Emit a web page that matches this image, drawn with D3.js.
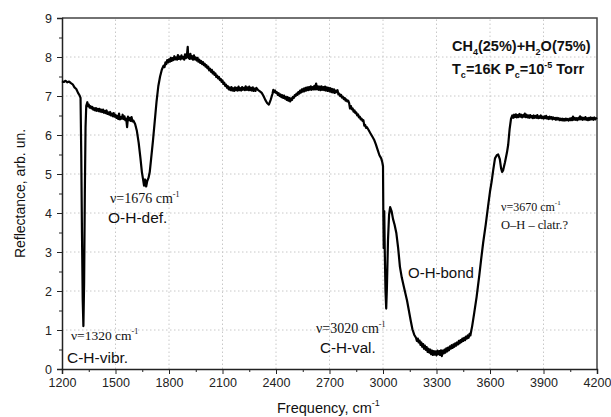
<!DOCTYPE html>
<html>
<head>
<meta charset="utf-8">
<script src="https://cdn.jsdelivr.net/npm/d3@7"></script>
<style>
  body { margin: 0; background: #fff; }
  svg { display: block; }
  .axis text { font-family: "Liberation Sans", Arial, sans-serif; font-size: 12.5px; fill: #222; }
  .axis path, .axis line { stroke: #222; }
  .grid line { stroke: #c8c8c8; stroke-dasharray: 1.5,2.5; }
  .sans { font-family: "Liberation Sans", Arial, sans-serif; fill: #111; }
  .serif { font-family: "Liberation Serif", "Times New Roman", serif; fill: #111; }
</style>
</head>
<body>
<script>
// spectrum: [frequency cm-1, reflectance arb. un.]
const spectrum = [
  [1200, 7.38], [1210, 7.36], [1220, 7.39], [1230, 7.35], [1240, 7.37], [1250, 7.33], [1260, 7.30], [1270, 7.22],
  [1280, 7.18], [1290, 7.08], [1298, 7.02], [1304, 6.95], [1308, 5.50], [1312, 3.50], [1316, 1.80], [1320, 1.10],
  [1324, 2.20], [1328, 4.50], [1332, 6.20], [1336, 6.75], [1342, 6.84], [1346, 6.74], [1350, 6.78], [1355, 6.70],
  [1360, 6.74], [1365, 6.68], [1370, 6.72], [1375, 6.65], [1380, 6.69], [1385, 6.63], [1390, 6.69], [1395, 6.62],
  [1400, 6.67], [1405, 6.61], [1410, 6.67], [1415, 6.60], [1420, 6.65], [1425, 6.59], [1430, 6.65], [1435, 6.57],
  [1440, 6.62], [1445, 6.56], [1450, 6.63], [1455, 6.54], [1460, 6.58], [1465, 6.52], [1470, 6.59], [1475, 6.50],
  [1480, 6.55], [1485, 6.48], [1490, 6.56], [1495, 6.47], [1500, 6.52], [1505, 6.44], [1510, 6.49], [1515, 6.41],
  [1520, 6.55], [1525, 6.40], [1530, 6.46], [1535, 6.42], [1540, 6.52], [1545, 6.41], [1550, 6.48], [1555, 6.38],
  [1560, 6.42], [1565, 6.20], [1570, 6.47], [1575, 6.38], [1580, 6.44], [1585, 6.36], [1590, 6.46], [1595, 6.35],
  [1600, 6.37], [1610, 6.28], [1620, 6.10], [1630, 5.80], [1640, 5.40], [1648, 5.05], [1655, 4.85], [1660, 4.70],
  [1666, 4.86], [1672, 4.68], [1678, 4.82], [1685, 4.90], [1692, 5.05], [1700, 5.40], [1710, 5.85], [1720, 6.35],
  [1730, 6.85], [1740, 7.25], [1750, 7.50], [1760, 7.68], [1770, 7.78], [1775, 7.74], [1780, 7.86], [1785, 7.82],
  [1790, 7.92], [1795, 7.86], [1800, 7.94], [1805, 7.88], [1810, 7.98], [1815, 7.90], [1820, 7.97], [1825, 7.92],
  [1830, 8.02], [1835, 7.94], [1840, 7.99], [1845, 7.93], [1850, 8.05], [1855, 7.95], [1860, 8.01], [1865, 7.94],
  [1870, 8.04], [1875, 7.96], [1880, 8.00], [1885, 7.93], [1890, 8.07], [1895, 7.97], [1900, 8.03], [1905, 8.26],
  [1908, 7.98], [1912, 8.06], [1915, 7.95], [1920, 8.08], [1925, 7.96], [1930, 8.02], [1935, 7.93], [1940, 8.04],
  [1945, 7.94], [1950, 7.99], [1955, 7.91], [1960, 7.98], [1965, 7.88], [1970, 7.93], [1975, 7.85], [1980, 7.90],
  [1985, 7.82], [1990, 7.87], [1995, 7.79], [2000, 7.83], [2005, 7.75], [2010, 7.79], [2015, 7.71], [2020, 7.75],
  [2025, 7.66], [2030, 7.70], [2035, 7.62], [2040, 7.67], [2045, 7.58], [2050, 7.62], [2055, 7.54], [2060, 7.58],
  [2065, 7.49], [2070, 7.52], [2075, 7.45], [2080, 7.49], [2085, 7.41], [2090, 7.44], [2095, 7.36], [2100, 7.40],
  [2105, 7.31], [2110, 7.34], [2115, 7.26], [2120, 7.29], [2125, 7.21], [2130, 7.25], [2135, 7.17], [2140, 7.22],
  [2145, 7.15], [2150, 7.23], [2155, 7.14], [2160, 7.20], [2165, 7.13], [2170, 7.22], [2175, 7.15], [2180, 7.21],
  [2185, 7.14], [2190, 7.24], [2195, 7.15], [2200, 7.20], [2205, 7.14], [2210, 7.23], [2215, 7.16], [2220, 7.21],
  [2225, 7.15], [2230, 7.25], [2235, 7.16], [2240, 7.22], [2245, 7.15], [2250, 7.24], [2255, 7.15], [2260, 7.21],
  [2265, 7.14], [2270, 7.22], [2275, 7.13], [2280, 7.19], [2285, 7.13], [2290, 7.21], [2300, 7.15], [2310, 7.12],
  [2320, 7.08], [2330, 7.00], [2340, 6.90], [2350, 6.82], [2360, 6.78], [2370, 6.90], [2380, 7.05], [2385, 7.16],
  [2390, 7.10], [2395, 7.14], [2400, 7.08], [2405, 7.10], [2410, 7.03], [2415, 7.07], [2420, 7.00], [2425, 7.04],
  [2430, 6.97], [2435, 7.02], [2440, 6.95], [2445, 7.01], [2450, 6.93], [2455, 6.98], [2460, 6.90], [2465, 6.97],
  [2470, 6.88], [2475, 6.95], [2480, 6.86], [2485, 6.94], [2490, 6.90], [2495, 6.98], [2500, 6.95], [2505, 7.02],
  [2510, 7.00], [2515, 7.06], [2520, 7.03], [2525, 7.10], [2530, 7.06], [2535, 7.14], [2540, 7.09], [2545, 7.17],
  [2550, 7.11], [2555, 7.19], [2560, 7.12], [2565, 7.21], [2570, 7.14], [2575, 7.22], [2580, 7.15], [2585, 7.23],
  [2590, 7.16], [2595, 7.25], [2600, 7.16], [2605, 7.23], [2610, 7.17], [2615, 7.26], [2620, 7.17], [2625, 7.32],
  [2630, 7.17], [2635, 7.25], [2640, 7.16], [2645, 7.24], [2650, 7.15], [2655, 7.25], [2660, 7.16], [2665, 7.23],
  [2670, 7.15], [2675, 7.24], [2680, 7.14], [2685, 7.22], [2690, 7.13], [2695, 7.21], [2700, 7.12], [2705, 7.20],
  [2710, 7.10], [2715, 7.18], [2720, 7.09], [2725, 7.17], [2730, 7.08], [2735, 7.14], [2740, 7.10], [2745, 7.15],
  [2750, 7.04], [2755, 7.06], [2760, 7.00], [2765, 7.03], [2770, 6.96], [2775, 6.98], [2780, 6.92], [2785, 6.95],
  [2790, 6.88], [2795, 6.91], [2800, 6.86], [2805, 6.88], [2810, 6.82], [2815, 6.68], [2820, 6.74], [2825, 6.66],
  [2830, 6.68], [2835, 6.60], [2840, 6.63], [2845, 6.56], [2850, 6.58], [2855, 6.50], [2860, 6.53], [2865, 6.45],
  [2870, 6.47], [2875, 6.40], [2880, 6.42], [2885, 6.36], [2890, 6.38], [2895, 6.24], [2900, 6.26], [2905, 6.18],
  [2910, 6.20], [2920, 6.12], [2930, 6.04], [2940, 5.96], [2950, 5.88], [2960, 5.76], [2970, 5.62], [2980, 5.48],
  [2990, 5.40], [2996, 5.30], [3000, 5.20], [3002, 3.90], [3004, 3.10], [3007, 4.05], [3010, 3.00], [3014, 2.00],
  [3018, 1.55], [3022, 2.10], [3028, 3.30], [3034, 3.95], [3040, 4.15], [3048, 4.05], [3056, 3.85], [3065, 3.70],
  [3075, 3.48], [3085, 3.10], [3095, 2.62], [3105, 2.35], [3115, 2.15], [3125, 1.95], [3135, 1.75], [3145, 1.50],
  [3155, 1.25], [3165, 1.02], [3175, 0.88], [3180, 0.84], [3185, 0.80], [3190, 0.72], [3195, 0.78], [3200, 0.68],
  [3205, 0.73], [3210, 0.62], [3215, 0.68], [3220, 0.57], [3225, 0.64], [3230, 0.52], [3235, 0.60], [3240, 0.49],
  [3245, 0.56], [3250, 0.44], [3255, 0.52], [3260, 0.42], [3265, 0.50], [3270, 0.38], [3275, 0.47], [3280, 0.36],
  [3285, 0.46], [3290, 0.37], [3295, 0.45], [3300, 0.35], [3305, 0.47], [3310, 0.38], [3315, 0.46], [3320, 0.36],
  [3325, 0.48], [3330, 0.33], [3335, 0.47], [3340, 0.40], [3345, 0.50], [3350, 0.42], [3355, 0.53], [3360, 0.45],
  [3365, 0.55], [3370, 0.48], [3375, 0.58], [3380, 0.52], [3385, 0.61], [3390, 0.54], [3395, 0.63], [3400, 0.57],
  [3405, 0.66], [3410, 0.60], [3415, 0.68], [3420, 0.63], [3425, 0.72], [3430, 0.66], [3435, 0.74], [3440, 0.69],
  [3445, 0.78], [3450, 0.72], [3455, 0.80], [3460, 0.74], [3465, 0.83], [3470, 0.78], [3475, 0.86], [3480, 0.80],
  [3485, 0.90], [3490, 0.86], [3500, 1.10], [3512, 1.45], [3525, 1.85], [3540, 2.40], [3550, 2.80], [3562, 3.25],
  [3576, 3.70], [3590, 4.20], [3600, 4.55], [3609, 4.80], [3618, 5.10], [3628, 5.40], [3638, 5.48], [3646, 5.50],
  [3655, 5.38], [3662, 5.15], [3668, 5.05], [3674, 5.10], [3684, 5.30], [3695, 5.55], [3702, 5.75], [3710, 6.15],
  [3718, 6.42], [3725, 6.50], [3730, 6.44], [3735, 6.52], [3740, 6.46], [3745, 6.53], [3750, 6.45], [3755, 6.51],
  [3760, 6.46], [3765, 6.54], [3770, 6.47], [3775, 6.52], [3780, 6.45], [3785, 6.51], [3790, 6.47], [3795, 6.55],
  [3800, 6.46], [3805, 6.52], [3810, 6.45], [3815, 6.50], [3820, 6.44], [3825, 6.51], [3830, 6.45], [3835, 6.49],
  [3840, 6.43], [3845, 6.50], [3850, 6.44], [3855, 6.49], [3860, 6.44], [3865, 6.51], [3870, 6.43], [3875, 6.48],
  [3880, 6.44], [3885, 6.50], [3890, 6.43], [3895, 6.47], [3900, 6.42], [3905, 6.48], [3910, 6.43], [3915, 6.49],
  [3920, 6.42], [3925, 6.46], [3930, 6.41], [3935, 6.47], [3940, 6.42], [3945, 6.46], [3950, 6.40], [3955, 6.45],
  [3960, 6.41], [3965, 6.44], [3970, 6.39], [3975, 6.44], [3980, 6.40], [3985, 6.43], [3990, 6.38], [3995, 6.42],
  [4000, 6.38], [4005, 6.42], [4010, 6.37], [4015, 6.41], [4020, 6.37], [4025, 6.42], [4030, 6.38], [4035, 6.41],
  [4040, 6.37], [4045, 6.42], [4050, 6.38], [4055, 6.43], [4060, 6.38], [4065, 6.47], [4070, 6.39], [4075, 6.44],
  [4080, 6.39], [4085, 6.43], [4090, 6.38], [4095, 6.44], [4100, 6.40], [4105, 6.48], [4110, 6.40], [4115, 6.45],
  [4120, 6.39], [4125, 6.44], [4130, 6.40], [4135, 6.46], [4140, 6.39], [4145, 6.43], [4150, 6.38], [4155, 6.44],
  [4160, 6.39], [4165, 6.45], [4170, 6.40], [4175, 6.44], [4180, 6.39], [4185, 6.45], [4190, 6.40], [4195, 6.43],
  [4200, 6.41]
];

const xTicks = [1200, 1500, 1800, 2100, 2400, 2700, 3000, 3300, 3600, 3900, 4200];
const xMinor = [1350, 1650, 1950, 2250, 2550, 2850, 3150, 3450, 3750, 4050];
const yTicks = [0, 1, 2, 3, 4, 5, 6, 7, 8, 9];
const yMinor = [0.5, 1.5, 2.5, 3.5, 4.5, 5.5, 6.5, 7.5, 8.5];

const width = 611, height = 417;
const margin = { left: 62, top: 18, right: 14, bottom: 48 };

const svg = d3.select('body').append('svg')
  .attr('width', width)
  .attr('height', height);

const x = d3.scaleLinear().domain([1200, 4200]).range([margin.left, width - margin.right]);
const y = d3.scaleLinear().domain([0, 9]).range([height - margin.bottom, margin.top]);

// grid
svg.append('g').attr('class', 'grid')
  .selectAll('line').data(xTicks.slice(1, -1)).enter().append('line')
    .attr('x1', d => x(d)).attr('x2', d => x(d))
    .attr('y1', y(0)).attr('y2', y(9));
svg.append('g').attr('class', 'grid')
  .selectAll('line').data(yTicks.slice(1, -1)).enter().append('line')
    .attr('y1', d => y(d)).attr('y2', d => y(d))
    .attr('x1', x(1200)).attr('x2', x(4200));

// frame (top and right)
svg.append('path')
  .attr('d', `M${x(1200)},${y(9)}H${x(4200)}V${y(0)}`)
  .attr('fill', 'none')
  .attr('stroke', '#444')
  .attr('stroke-width', 1.5);

// axes
svg.append('g').attr('class', 'axis')
  .attr('transform', `translate(0,${y(0)})`)
  .call(d3.axisBottom(x).tickValues(xMinor).tickSize(3).tickFormat(''))
  .call(g => g.select('.domain').remove());
svg.append('g').attr('class', 'axis')
  .attr('transform', `translate(0,${y(0)})`)
  .call(d3.axisBottom(x).tickValues(xTicks).tickSize(5).tickPadding(4).tickFormat(d3.format('d')))
  .call(g => g.select('.domain').attr('stroke-width', 1.5));

svg.append('g').attr('class', 'axis')
  .attr('transform', `translate(${x(1200)},0)`)
  .call(d3.axisLeft(y).tickValues(yMinor).tickSize(3).tickFormat(''))
  .call(g => g.select('.domain').remove());
svg.append('g').attr('class', 'axis')
  .attr('transform', `translate(${x(1200)},0)`)
  .call(d3.axisLeft(y).tickValues(yTicks).tickSize(5).tickPadding(5).tickFormat(d3.format('d')))
  .call(g => g.select('.domain').attr('stroke-width', 1.5));

// spectrum line
svg.append('path')
  .datum(spectrum)
  .attr('fill', 'none')
  .attr('stroke', '#000')
  .attr('stroke-width', 2.2)
  .attr('stroke-linejoin', 'round')
  .attr('d', d3.line().x(d => x(d[0])).y(d => y(d[1])));

// axis titles
svg.append('text').attr('class', 'sans')
  .attr('transform', `translate(25,${(y(0) + y(9)) / 2}) rotate(-90)`)
  .attr('text-anchor', 'middle')
  .style('font-size', '14px')
  .text('Reflectance, arb. un.');

const xt = svg.append('text').attr('class', 'sans')
  .attr('x', 277).attr('y', 413)
  .style('font-size', '14.5px');
xt.append('tspan').text('Frequency, cm');
xt.append('tspan').attr('dy', -7).style('font-size', '9px').text('-1');

// text with sub/superscripts: parts = [[text, baseline shift]]
function rich(cls, px, py, size, weight, parts) {
  const t = svg.append('text').attr('class', cls)
    .attr('x', px).attr('y', py)
    .style('font-size', size + 'px')
    .style('font-weight', weight);
  let cur = 0;
  parts.forEach(p => {
    const s = p[1];
    t.append('tspan')
      .attr('dy', s - cur)
      .style('font-size', s === 0 ? size + 'px' : Math.round(size * 0.6) + 'px')
      .text(p[0]);
    cur = s;
  });
  return t;
}

rich('sans', 452, 51, 14.5, 'bold',
  [['CH', 0], ['4', 4], ['(25%)+H', 0], ['2', 4], ['O(75%)', 0]]);
rich('sans', 452, 74, 14.5, 'bold',
  [['T', 0], ['c', 4], ['=16K P', 0], ['c', 4], ['=10', 0], ['-5', -6], [' Torr', 0]]);

rich('serif', 110, 203, 14, 'normal', [['\u03bd=1676 cm', 0], ['-1', -6]]);
rich('sans', 108, 223, 15.5, 'normal', [['O-H-def.', 0]]);

rich('serif', 71, 340, 13.5, 'normal', [['\u03bd=1320 cm', 0], ['-1', -6]]);
rich('sans', 67, 363, 15.5, 'normal', [['C-H-vibr.', 0]]);

rich('serif', 316, 333, 14, 'normal', [['\u03bd=3020 cm', 0], ['-1', -6]]);
rich('sans', 320, 353, 15.2, 'normal', [['C-H-val.', 0]]);

rich('sans', 408, 278, 15, 'normal', [['O-H-bond', 0]]);

rich('serif', 501, 211, 12, 'normal', [['\u03bd=3670 cm', 0], ['-1', -6]]);
rich('serif', 501, 229, 12.5, 'normal', [['O\u2013H \u2013 clatr.?', 0]]);
</script>
</body>
</html>
